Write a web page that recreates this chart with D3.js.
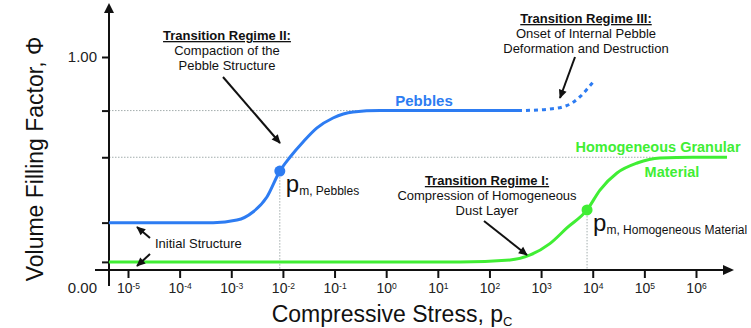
<!DOCTYPE html>
<html>
<head>
<meta charset="utf-8">
<script src="https://cdn.jsdelivr.net/npm/d3@7/dist/d3.min.js"></script>
<style>
body { margin: 0; background: #fff; }
text { font-family: "Liberation Sans", Arial, Helvetica, sans-serif; }
</style>
</head>
<body>
<script>
// log10 of compressive stress and filling factor
var pebbleLogP = [-5.37, -4.0, -3.35, -2.89, -2.58, -2.31, -2.06, -1.86, -1.61, -1.34, -1.03, -0.64, -0.12, 2.63];
var pebblePhi = [0.283, 0.283, 0.283, 0.294, 0.329, 0.394, 0.506, 0.567, 0.632, 0.693, 0.736, 0.762, 0.768, 0.768];
var deformLogP = [2.63, 3.17, 3.42, 3.60, 3.75, 3.91, 4.01];
var deformPhi = [0.768, 0.775, 0.784, 0.801, 0.827, 0.866, 0.892];
var homogLogP = [-5.37, 1.43, 2.40, 2.79, 3.17, 3.50, 3.89, 4.14, 4.47, 4.86, 5.30, 5.94, 6.60];
var homogPhi = [0.113, 0.113, 0.121, 0.143, 0.192, 0.260, 0.338, 0.424, 0.498, 0.541, 0.563, 0.566, 0.566];

// p_m markers
var pmLogP = [-2.06, 3.89];
var pmPhi = [0.506, 0.338];
var pmNames = ["Pebbles", "Homogeneous Material"];

var xTickExp = [-5, -4, -3, -2, -1, 0, 1, 2, 3, 4, 5, 6];
var yTickVals = [0, 0.113, 0.283, 0.566, 0.768, 1];
var levelPhi = [0.768, 0.566];
var levelEndLogP = [2.63, 5.2];

var blue = "#2d7cf2";
var green = "#40ee34";

var width = 751, height = 328;
var axisX = 109, axisY = 270;

var svg = d3.select("body").append("svg")
    .attr("width", width)
    .attr("height", height);

svg.append("defs").append("marker")
    .attr("id", "arrow")
    .attr("viewBox", "0 -5 10 10")
    .attr("refX", 9)
    .attr("refY", 0)
    .attr("markerUnits", "userSpaceOnUse")
    .attr("markerWidth", 10)
    .attr("markerHeight", 9)
    .attr("orient", "auto")
    .append("path")
    .attr("d", "M0,-4.5L10,0L0,4.5Z")
    .attr("fill", "#111");

var x = d3.scaleLog().domain([1e-5, 1e6]).range([128, 696]);
var y = d3.scaleLinear().domain([0, 1]).range([288, 57]);

var line = d3.line()
    .x(d => x(Math.pow(10, d[0])))
    .y(d => y(d[1]))
    .curve(d3.curveMonotoneX);

// dotted guide lines
var guides = svg.append("g")
    .attr("stroke", "#a3adad")
    .attr("stroke-width", 1)
    .attr("stroke-dasharray", "1.5,1.5");

levelPhi.forEach(function (v, i) {
    guides.append("line")
        .attr("x1", axisX).attr("x2", x(Math.pow(10, levelEndLogP[i])))
        .attr("y1", y(v)).attr("y2", y(v));
});
pmLogP.forEach(function (v, i) {
    guides.append("line")
        .attr("x1", x(Math.pow(10, v))).attr("x2", x(Math.pow(10, v)))
        .attr("y1", y(pmPhi[i])).attr("y2", axisY);
});

// y axis
var yAxis = svg.append("g")
    .attr("transform", `translate(${axisX},0)`)
    .call(d3.axisLeft(y)
        .tickValues(yTickVals)
        .tickSize(7)
        .tickPadding(5)
        .tickFormat(d => (d === 0 || d === 1) ? d3.format(".2f")(d) : ""));
yAxis.select(".domain").remove();
yAxis.selectAll(".tick line").attr("stroke", "#111").attr("stroke-width", 2)
    .filter(d => d === 0).remove();
yAxis.selectAll(".tick text")
    .attr("font-size", 15)
    .attr("fill", "#222")
    .attr("font-family", "Liberation Sans, Arial, sans-serif");

// x axis
var xAxis = svg.append("g")
    .attr("transform", `translate(0,${axisY})`)
    .call(d3.axisBottom(x)
        .tickValues(xTickExp.map(e => Math.pow(10, e)))
        .tickSize(8)
        .tickPadding(5)
        .tickFormat(() => "10"));
xAxis.select(".domain").remove();
xAxis.selectAll(".tick line").attr("stroke", "#111").attr("stroke-width", 2);
xAxis.selectAll(".tick text")
    .attr("font-size", 14)
    .attr("fill", "#222")
    .attr("font-family", "Liberation Sans, Arial, sans-serif")
    .each(function (d) {
        d3.select(this).append("tspan")
            .attr("dy", "-0.45em")
            .attr("font-size", 8.5)
            .text(Math.round(Math.log10(d)));
    });

// axis lines with arrow heads
svg.append("line")
    .attr("x1", axisX).attr("x2", axisX)
    .attr("y1", 286).attr("y2", 10)
    .attr("stroke", "#111").attr("stroke-width", 2);
svg.append("path")
    .attr("d", `M${axisX},3L${axisX - 5},13L${axisX + 5},13Z`)
    .attr("fill", "#111");
svg.append("line")
    .attr("x1", 95).attr("x2", 726)
    .attr("y1", axisY).attr("y2", axisY)
    .attr("stroke", "#111").attr("stroke-width", 2);
svg.append("path")
    .attr("d", `M734,${axisY}L723,${axisY - 5}L723,${axisY + 5}Z`)
    .attr("fill", "#111");

// curves
svg.append("path")
    .datum(d3.zip(homogLogP, homogPhi))
    .attr("d", line)
    .attr("fill", "none")
    .attr("stroke", green)
    .attr("stroke-width", 3);

svg.append("path")
    .datum(d3.zip(pebbleLogP, pebblePhi))
    .attr("d", line)
    .attr("fill", "none")
    .attr("stroke", blue)
    .attr("stroke-width", 3);

svg.append("path")
    .datum(d3.zip(deformLogP, deformPhi))
    .attr("d", line)
    .attr("fill", "none")
    .attr("stroke", blue)
    .attr("stroke-width", 3)
    .attr("stroke-dasharray", "4,4")
    .attr("stroke-dashoffset", -4);

// p_m points and labels
var pmColors = [blue, green];
pmLogP.forEach(function (v, i) {
    var cx = x(Math.pow(10, v)), cy = y(pmPhi[i]);
    svg.append("circle")
        .attr("cx", cx).attr("cy", cy).attr("r", 5.5)
        .attr("fill", pmColors[i]);
    var t = svg.append("text")
        .attr("x", cx + 6)
        .attr("y", cy + 21)
        .attr("font-size", 24)
        .attr("fill", "#111")
        .text("p");
    t.append("tspan")
        .attr("dy", 3)
        .attr("font-size", 12)
        .text("m, " + pmNames[i]);
});

// annotations
function note(cx, top, lines, size) {
    var g = svg.append("g");
    lines.forEach(function (s, i) {
        g.append("text")
            .attr("x", cx)
            .attr("y", top + i * 15)
            .attr("text-anchor", "middle")
            .attr("font-size", size || 13)
            .attr("font-weight", i === 0 ? "bold" : "normal")
            .attr("text-decoration", i === 0 ? "underline" : "none")
            .attr("fill", "#111")
            .text(s);
    });
}
note(227, 40, ["Transition Regime II:", "Compaction of the", "Pebble Structure"]);
note(586, 23, ["Transition Regime III:", "Onset of Internal Pebble", "Deformation and Destruction"]);
note(487, 185, ["Transition Regime I:", "Compression of Homogeneous", "Dust Layer"]);

svg.append("text")
    .attr("x", 155).attr("y", 248)
    .attr("font-size", 13)
    .attr("fill", "#111")
    .text("Initial Structure");

var arrows = [
    [223, 77, 280, 143],
    [575, 57, 560, 98],
    [484, 221, 527, 255],
    [150, 238, 137, 227],
    [150, 254, 137, 266]
];
svg.append("g").selectAll("line")
    .data(arrows)
    .enter().append("line")
    .attr("x1", d => d[0]).attr("y1", d => d[1])
    .attr("x2", d => d[2]).attr("y2", d => d[3])
    .attr("stroke", "#111")
    .attr("stroke-width", 2)
    .attr("marker-end", "url(#arrow)");

// series labels
svg.append("text")
    .attr("x", 424).attr("y", 106)
    .attr("text-anchor", "middle")
    .attr("font-size", 15).attr("font-weight", "bold")
    .attr("fill", blue)
    .text("Pebbles");
svg.append("text")
    .attr("x", 658).attr("y", 152)
    .attr("text-anchor", "middle")
    .attr("font-size", 14.5).attr("font-weight", "bold")
    .attr("fill", green)
    .text("Homogeneous Granular");
svg.append("text")
    .attr("x", 672).attr("y", 177)
    .attr("text-anchor", "middle")
    .attr("font-size", 14.5).attr("font-weight", "bold")
    .attr("fill", green)
    .text("Material");

// axis titles
svg.append("text")
    .attr("transform", "translate(43,159) rotate(-90)")
    .attr("text-anchor", "middle")
    .attr("font-size", 23)
    .attr("fill", "#111")
    .text("Volume Filling Factor, \u03A6");

var xt = svg.append("text")
    .attr("x", 392).attr("y", 322)
    .attr("text-anchor", "middle")
    .attr("font-size", 23)
    .attr("fill", "#111")
    .text("Compressive Stress, p");
xt.append("tspan")
    .attr("dy", 4)
    .attr("font-size", 13)
    .text("C");
</script>
</body>
</html>
